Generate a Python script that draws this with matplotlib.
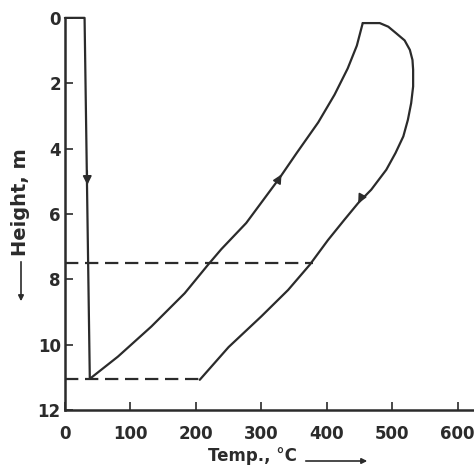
"""
Temperature profile along the packed height (scanned figure redraw)
"""

import matplotlib.pyplot as plt
from matplotlib.patches import FancyArrowPatch

# data
height_ticks = [0, 2, 4, 6, 8, 10, 12]
temp_ticks = [0, 100, 200, 300, 400, 500, 600]

# cold feed: along the top and straight down the left
feed_temp = [0, 30, 38]
feed_height = [0, 0, 11.05]

# rising branch (left curve)
rise_temp = [38, 81, 132, 183, 219, 239, 277, 328, 354, 387, 412, 432, 446, 455]
rise_height = [11.05, 10.37, 9.45, 8.43, 7.55, 7.08, 6.28, 4.9, 4.14, 3.2, 2.35, 1.55, 0.85, 0.16]

# returning branch (top arc and right curve)
ret_temp = [455, 481, 494, 506, 519, 527, 531, 532, 532, 529, 524, 517, 505, 491,
            468, 448, 427, 402, 374, 341, 300, 250, 206]
ret_height = [0.16, 0.16, 0.27, 0.47, 0.69, 0.98, 1.29, 1.59, 2.10, 2.61, 3.12, 3.63,
              4.14, 4.65, 5.26, 5.67, 6.18, 6.80, 7.56, 8.33, 9.14, 10.08, 11.08]

# dashed guide lines
guide_height = [7.5, 11.07]
guide_temp_end = [379, 206]

INK = '#2b2b2b'

plt.rcParams['font.family'] = ['DejaVu Sans']
plt.rcParams['font.weight'] = 'bold'

fig = plt.figure(figsize=(4.74, 4.70), dpi=100)
ax = fig.add_axes([0.137, 0.128, 0.863, 0.834])

line_kw = dict(color=INK, lw=1.6, solid_joinstyle='round', solid_capstyle='round')
ax.plot(feed_temp, feed_height, clip_on=False, **line_kw)
ax.plot(rise_temp, rise_height, **line_kw)
ax.plot(ret_temp, ret_height, **line_kw)

for h, t_end in zip(guide_height, guide_temp_end):
    ax.plot([0, t_end], [h, h], color=INK, lw=1.6, linestyle=(0, (6, 3)))

# flow direction arrows
arrow_kw = dict(arrowstyle='-|>', color=INK, lw=1.2, mutation_scale=13)
ax.annotate('', xy=(34.3, 5.2), xytext=(34.0, 4.6), arrowprops=arrow_kw)
ax.annotate('', xy=(333, 4.72), xytext=(322, 5.1), arrowprops=arrow_kw)
ax.annotate('', xy=(446, 5.75), xytext=(455, 5.42), arrowprops=arrow_kw)

ax.set_xlim(0, 625)
ax.set_ylim(12, 0)
ax.set_xticks(temp_ticks)
ax.set_yticks(height_ticks)
ax.set_xticklabels([str(t) for t in temp_ticks])
ax.set_yticklabels([str(h) for h in height_ticks])

for side in ['top', 'right']:
    ax.spines[side].set_visible(False)
for side in ['left', 'bottom']:
    ax.spines[side].set_linewidth(1.8)
    ax.spines[side].set_color(INK)

ax.tick_params(axis='both', direction='in', colors=INK, labelsize=12,
               length=6, width=1.2)
ax.tick_params(axis='y', pad=3)
ax.tick_params(axis='x', pad=11)

# axis labels with direction arrows
fig.text(252 / 474, 1 - 456 / 470, 'Temp., °C', ha='center', va='center',
         fontsize=12, fontweight='bold', color=INK)
fig.text(21 / 474, 1 - 202 / 470, 'Height, m', ha='center', va='center',
         rotation=90, fontsize=14, fontweight='bold', color=INK)
fig.add_artist(FancyArrowPatch(
    (303 / 474, 1 - 461 / 470), (370 / 474, 1 - 461 / 470),
    transform=fig.transFigure, arrowstyle='-|>', mutation_scale=8,
    color=INK, lw=1.2))
fig.add_artist(FancyArrowPatch(
    (21 / 474, 1 - 259 / 470), (21 / 474, 1 - 304 / 470),
    transform=fig.transFigure, arrowstyle='-|>', mutation_scale=8,
    color=INK, lw=1.2))

fig.savefig('out.png', dpi=100, facecolor='white')
